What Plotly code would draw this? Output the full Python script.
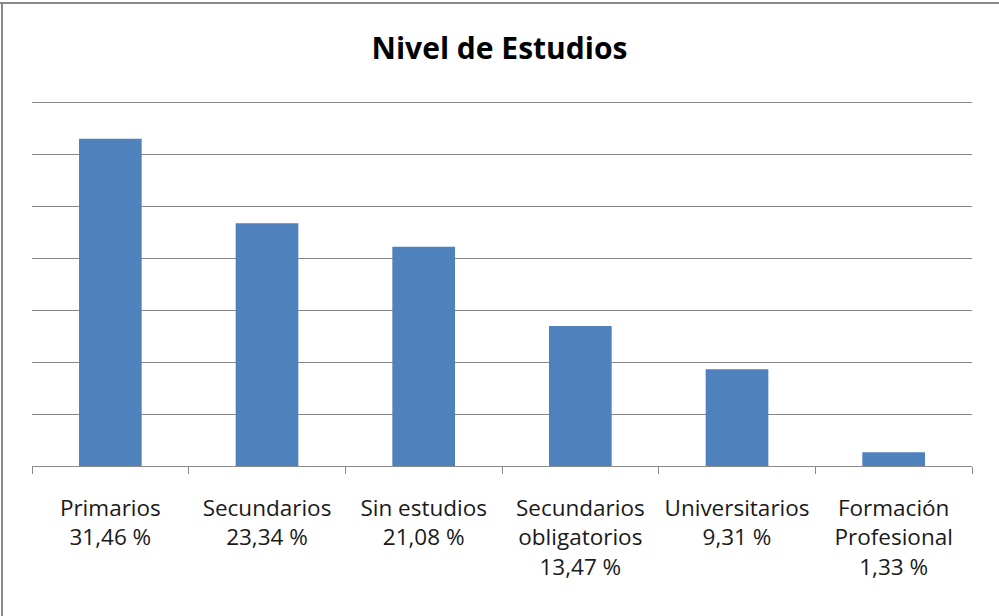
import plotly.graph_objects as go

categories = ["Primarios", "Secundarios", "Sin estudios", "Secundarios<br>obligatorios",
              "Universitarios", "Formación<br>Profesional"]
values = [31.46, 23.34, 21.08, 13.47, 9.31, 1.33]
pct_labels = ["31,46 %", "23,34 %", "21,08 %", "13,47 %", "9,31 %", "1,33 %"]
y_max = 35

ticktext = [f"{c}<br>{p}" for c, p in zip(categories, pct_labels)]

fig = go.Figure(go.Bar(
    x=list(range(len(values))), y=values,
    marker=dict(color="#4F81BD", line=dict(width=0)),
    width=0.4,
))

fig.update_layout(
    width=999, height=616,
    margin=dict(l=32, r=27, t=102, b=150, autoexpand=False),
    paper_bgcolor="white", plot_bgcolor="white",
    showlegend=False,
    title=dict(text="<b>Nivel de Estudios</b>", x=0.5, xanchor="center",
               y=1 - 48 / 616, yanchor="middle",
               font=dict(family="Open Sans", size=30, color="#000000")),
    font=dict(family="Open Sans", color="#1a1a1a"),
)
fig.update_xaxes(
    type="linear", range=[-0.5, 5.5], automargin=False,
    tickmode="array", tickvals=list(range(len(values))), ticktext=ticktext,
    showline=True, linecolor="#888888", linewidth=1,
    ticks="", showgrid=False, zeroline=False,
    tickfont=dict(family="Open Sans", size=22.5, color="#1a1a1a"),
    ticklabelstandoff=22,
)
fig.update_xaxes(minor=dict(tickmode="array", tickvals=[-0.5, 0.5, 1.5, 2.5, 3.5, 4.5, 5.5],
                            ticks="outside", ticklen=7, tickcolor="#888888", tickwidth=1))
fig.update_yaxes(
    range=[0, y_max], dtick=5, showticklabels=False, automargin=False,
    showgrid=True, gridcolor="#868686", gridwidth=1,
    zeroline=False, showline=False,
)
# top gridline at the range maximum
fig.add_shape(type="line", xref="paper", yref="y", x0=0, x1=1, y0=y_max, y1=y_max,
              line=dict(color="#888888", width=2), layer="below")
# chart border (top and left edges visible)
fig.add_shape(type="line", xref="paper", yref="paper",
              x0=-32 / 940, x1=1 + 27 / 940, y0=1 + 99 / 364, y1=1 + 99 / 364,
              line=dict(color="#888888", width=2))
fig.add_shape(type="line", xref="paper", yref="paper",
              x0=-30 / 940, x1=-30 / 940, y0=1 + 99 / 364, y1=-150 / 364,
              line=dict(color="#888888", width=2))

fig.write_html("out.html", config={"displayModeBar": False},
               post_script="document.body.style.margin='0';")
